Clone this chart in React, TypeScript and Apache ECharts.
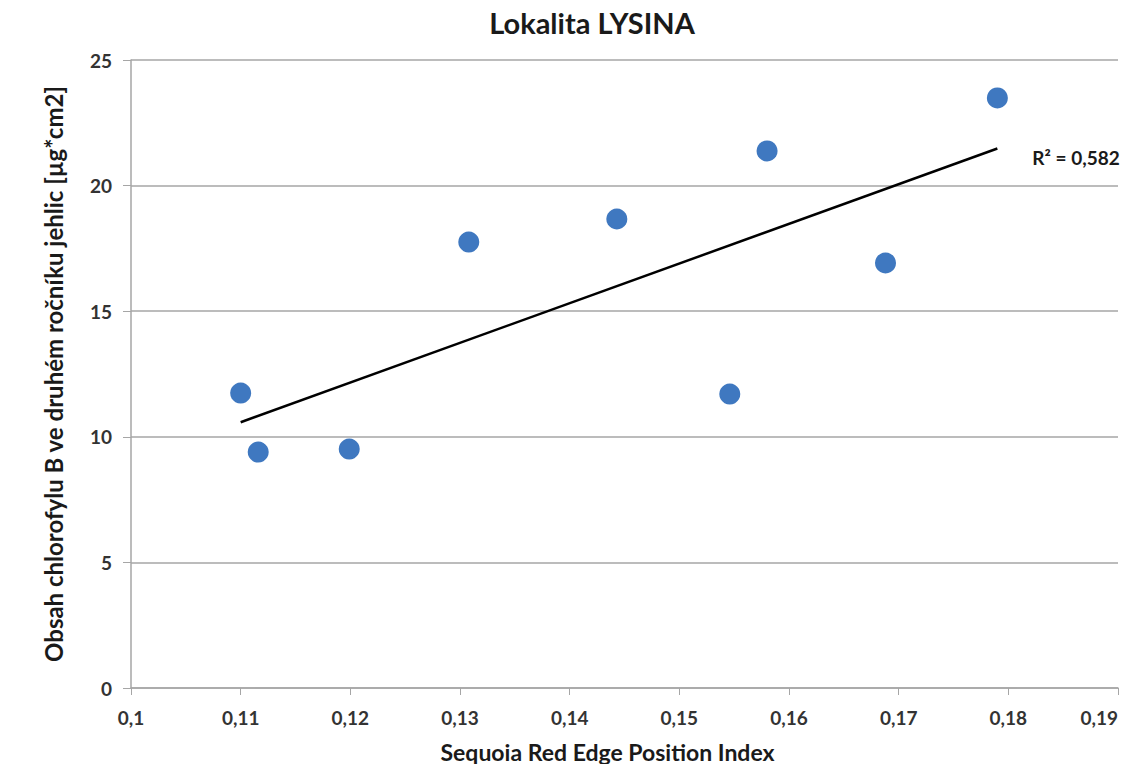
import React, { useEffect, useRef } from "react";
import * as echarts from "echarts";

const titleText = "Lokalita LYSINA";
const xAxisTitle = "Sequoia Red Edge Position Index";
const yAxisTitle = "Obsah chlorofylu B ve druhém ročníku jehlic [µg*cm2]";
const xValues = [0.11, 0.1116, 0.1199, 0.1308, 0.1443, 0.1546, 0.158, 0.1688, 0.179];
const yValues = [11.74, 9.39, 9.51, 17.75, 18.67, 11.7, 21.38, 16.92, 23.49];
const r2Label = "R² = 0,582";

function regression(xs: number[], ys: number[]) {
  const n = xs.length;
  const mx = xs.reduce((a, b) => a + b, 0) / n;
  const my = ys.reduce((a, b) => a + b, 0) / n;
  let sxy = 0;
  let sxx = 0;
  for (let i = 0; i < n; i++) {
    sxy += (xs[i] - mx) * (ys[i] - my);
    sxx += (xs[i] - mx) * (xs[i] - mx);
  }
  const slope = sxy / sxx;
  return { slope, intercept: my - slope * mx };
}

export default function App() {
  const ref = useRef<HTMLDivElement>(null);
  useEffect(() => {
    if (!ref.current) return;
    const chart = echarts.init(ref.current, undefined, { renderer: "svg" });
    const { slope, intercept } = regression(xValues, yValues);
    const xMin = Math.min(...xValues);
    const xMax = Math.max(...xValues);
    const trend = [
      [xMin, intercept + slope * xMin],
      [xMax, intercept + slope * xMax],
    ];
    const font = "Lato, 'Open Sans', sans-serif";
    chart.setOption({
      animation: false,
      backgroundColor: "#ffffff",
      title: {
        text: titleText,
        left: 587,
        top: 3,
        textAlign: "center",
        textStyle: { fontFamily: font, fontSize: 29, fontWeight: "bold", color: "#1a1a1a" },
      },
      grid: { left: 131, right: 9, top: 60, bottom: 76, outerBoundsMode: "none", containLabel: false },
      xAxis: {
        type: "value",
        min: 0.1,
        max: 0.19,
        interval: 0.01,
        name: xAxisTitle,
        nameLocation: "middle",
        nameGap: 52,
        nameTextStyle: {
          fontFamily: font,
          fontSize: 23,
          fontWeight: "bold",
          color: "#1a1a1a",
          padding: [0, 34, 0, 0],
        },
        axisLine: { show: true, lineStyle: { color: "#a6a6a6", width: 1.5 } },
        axisTick: { show: true, length: 7, inside: false, lineStyle: { color: "#a6a6a6" } },
        splitLine: { show: false },
        axisLabel: {
          margin: 20,
          fontFamily: font,
          fontSize: 19,
          color: "#333333",
          fontWeight: "bold",
          alignMaxLabel: "right",
          formatter: (v: number) => String(Math.round(v * 100) / 100).replace(".", ","),
        },
      },
      yAxis: {
        type: "value",
        min: 0,
        max: 25,
        interval: 5,
        name: yAxisTitle,
        nameLocation: "middle",
        nameGap: 66,
        nameRotate: 90,
        nameTextStyle: { fontFamily: font, fontSize: 24, fontWeight: "bold", color: "#1a1a1a" },
        axisLine: { show: true, lineStyle: { color: "#a6a6a6", width: 1.5 } },
        axisTick: { show: true, length: 8, lineStyle: { color: "#a6a6a6" } },
        splitLine: { show: true, lineStyle: { color: "#a6a6a6", width: 1.5 } },
        axisLabel: { margin: 19, fontFamily: font, fontSize: 19, color: "#333333", fontWeight: "bold" },
      },
      series: [
        {
          type: "scatter",
          data: xValues.map((x, i) => [x, yValues[i]]),
          symbolSize: 21,
          itemStyle: { color: "#3f78c0", opacity: 1 },
          z: 3,
        },
        {
          type: "line",
          data: trend,
          symbol: "none",
          lineStyle: { color: "#000000", width: 2.5 },
          z: 2,
        },
      ],
    });
    const end = chart.convertToPixel({ gridIndex: 0 }, trend[1]) as number[];
    chart.setOption({
      graphic: [
        {
          type: "text",
          x: end[0] + 35,
          y: end[1] + 9,
          style: {
            text: r2Label,
            font: "bold 19px Lato, 'Open Sans', sans-serif",
            fill: "#1a1a1a",
            verticalAlign: "middle",
            align: "left",
          },
        },
      ],
    });
    return () => chart.dispose();
  }, []);
  return (
    <div
      ref={ref}
      style={{ position: "fixed", left: 0, top: 0, width: 1127, height: 764 }}
    />
  );
}
